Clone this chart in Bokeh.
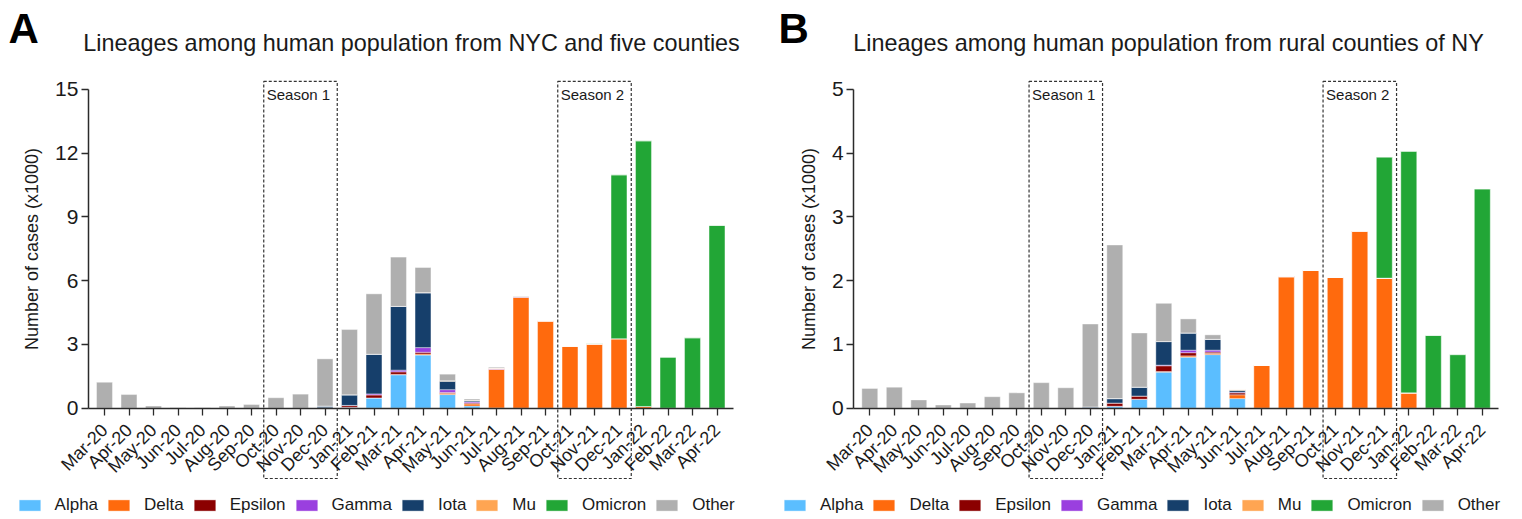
import math
from bokeh.plotting import figure
from bokeh.models import (ColumnDataSource, Range1d, Legend, LegendItem, Label, FixedTicker)
from bokeh.layouts import row
from bokeh.embed import file_html
from bokeh.resources import INLINE
from bokeh.core.properties import value

months = ["Mar-20", "Apr-20", "May-20", "Jun-20", "Jul-20", "Aug-20", "Sep-20",
          "Oct-20", "Nov-20", "Dec-20", "Jan-21", "Feb-21", "Mar-21", "Apr-21",
          "May-21", "Jun-21", "Jul-21", "Aug-21", "Sep-21", "Oct-21", "Nov-21",
          "Dec-21", "Jan-22", "Feb-22", "Mar-22", "Apr-22"]
lineages = ["Alpha", "Delta", "Epsilon", "Gamma", "Iota", "Mu", "Omicron", "Other"]
colors = ["#5BBEFF", "#FF6A0D", "#8B0000", "#9A3FDF", "#163F6B", "#FFA552", "#22A636", "#AFAFAF"]
season1 = ["Oct-20", "Nov-20", "Dec-20"]
season2 = ["Oct-21", "Nov-21", "Dec-21"]

# Panel A: NYC and five counties (cases x1000)
nyc_alpha = [0, 0, 0, 0, 0, 0, 0, 0, 0, 0, 0.04, 0.48, 1.57, 2.50, 0.64, 0.10, 0.01, 0, 0, 0, 0, 0, 0, 0, 0, 0]
nyc_delta = [0, 0, 0, 0, 0, 0, 0, 0, 0, 0, 0, 0, 0.02, 0.05, 0.06, 0.10, 1.82, 5.22, 4.11, 2.92, 3.02, 3.27, 0.08, 0, 0, 0]
nyc_epsilon = [0, 0, 0, 0, 0, 0, 0, 0, 0, 0.02, 0.08, 0.14, 0.12, 0.08, 0.04, 0.04, 0, 0, 0, 0, 0, 0, 0, 0, 0, 0]
nyc_gamma = [0, 0, 0, 0, 0, 0, 0, 0, 0, 0, 0.01, 0.05, 0.08, 0.22, 0.13, 0.05, 0.04, 0.03, 0, 0, 0, 0, 0, 0, 0, 0]
nyc_iota = [0, 0, 0, 0, 0, 0, 0, 0, 0, 0.08, 0.50, 1.87, 3.00, 2.57, 0.40, 0.05, 0, 0, 0, 0, 0, 0, 0, 0, 0, 0]
nyc_mu = [0, 0, 0, 0, 0, 0, 0, 0, 0, 0, 0, 0, 0, 0.02, 0.02, 0.03, 0.02, 0.01, 0, 0, 0, 0, 0, 0, 0, 0]
nyc_omicron = [0, 0, 0, 0, 0, 0, 0, 0, 0, 0, 0, 0, 0, 0, 0, 0, 0, 0, 0, 0, 0.02, 7.71, 12.50, 2.40, 3.31, 8.60]
nyc_other = [1.22, 0.64, 0.10, 0.02, 0.02, 0.10, 0.17, 0.49, 0.66, 2.22, 3.07, 2.84, 2.32, 1.18, 0.31, 0.06, 0.04, 0.02, 0, 0, 0, 0, 0, 0, 0, 0]

# Panel B: rural counties of NY (cases x1000)
rur_alpha = [0, 0, 0, 0, 0, 0, 0, 0, 0, 0, 0.03, 0.14, 0.565, 0.80, 0.84, 0.15, 0, 0, 0, 0, 0, 0, 0, 0, 0, 0]
rur_delta = [0, 0, 0, 0, 0, 0, 0, 0, 0, 0, 0, 0, 0.01, 0.02, 0.02, 0.06, 0.67, 2.06, 2.16, 2.05, 2.78, 2.04, 0.24, 0, 0, 0]
rur_epsilon = [0, 0, 0, 0, 0, 0, 0, 0, 0, 0, 0.05, 0.05, 0.09, 0.05, 0.02, 0.03, 0, 0, 0, 0, 0, 0, 0, 0, 0, 0]
rur_gamma = [0, 0, 0, 0, 0, 0, 0, 0, 0, 0, 0, 0, 0.01, 0.04, 0.03, 0.01, 0, 0.01, 0, 0, 0, 0, 0, 0, 0, 0]
rur_iota = [0, 0, 0, 0, 0, 0, 0, 0, 0, 0.02, 0.07, 0.14, 0.37, 0.27, 0.17, 0.03, 0, 0, 0, 0, 0, 0, 0, 0, 0, 0]
rur_mu = [0, 0, 0, 0, 0, 0, 0, 0, 0, 0, 0, 0, 0, 0, 0, 0.01, 0, 0, 0, 0, 0, 0, 0, 0, 0, 0]
rur_omicron = [0, 0, 0, 0, 0, 0, 0, 0, 0, 0, 0, 0, 0, 0, 0, 0, 0, 0, 0, 0, 0, 1.90, 3.79, 1.14, 0.84, 3.44]
rur_other = [0.31, 0.33, 0.13, 0.05, 0.08, 0.18, 0.24, 0.40, 0.32, 1.30, 2.41, 0.85, 0.60, 0.22, 0.07, 0, 0, 0, 0, 0, 0, 0, 0, 0, 0, 0]

titleA = "Lineages among human population from NYC and five counties"
titleB = "Lineages among human population from rural counties of NY"
yticksA = [0, 3, 6, 9, 12, 15]
yticksB = [0, 1, 2, 3, 4, 5]

FONT = "Liberation Sans"
AXIS = "#2b2b2b"
TEXT = "#1a1a1a"
H = 517          # figure height (px)
PPC = 24.5       # pixels per month slot


def make_panel(letter, title, series, yticks, width, first_px, title_cx, letter_x, legend_x):
    ymax = yticks[-1]
    pos = list(range(len(months)))
    data = {"pos": pos}
    for name, vals in zip(lineages, series):
        data[name] = vals
    src = ColumnDataSource(data)

    p = figure(width=width, height=H,
               x_range=Range1d(-first_px / PPC, (width - first_px) / PPC),
               y_range=Range1d(-ymax * 0.343, ymax * 1.279),
               output_backend="svg", toolbar_location=None, min_border=0)
    p.outline_line_color = None
    p.grid.visible = False
    p.background_fill_color = "white"
    p.border_fill_color = "white"

    rends = p.vbar_stack(lineages, x="pos", width=0.65, color=colors, source=src,
                         line_color="white", line_alpha=0.5, line_width=0.8)

    # season boxes
    for sname, months_in in (("Season 1", season1), ("Season 2", season2)):
        left = months.index(months_in[0]) - 0.5
        right = months.index(months_in[-1]) + 0.5
        top = ymax * 1.025
        bottom = -ymax * 0.2207
        p.quad(left=[left], right=[right], top=[top], bottom=[bottom],
               fill_alpha=0, line_color="#333333", line_dash="3 2", line_width=1.2)
        p.text(x=[left], y=[top], text=[sname], x_offset=3, y_offset=5,
               text_baseline="top", text_align="left",
               text_font=value(FONT), text_font_size=value("15px"), text_color=TEXT)

    axis_x = -0.66
    # x axis
    xa = p.xaxis[0]
    xa.fixed_location = 0
    xa.bounds = (axis_x, len(months) - 0.34)
    xa.ticker = FixedTicker(ticks=pos)
    xa.major_label_overrides = {i: m for i, m in zip(pos, months)}
    xa.major_label_orientation = math.pi / 4
    xa.major_label_text_font = FONT
    xa.major_label_text_font_size = "18px"
    xa.major_label_text_color = TEXT
    xa.minor_tick_line_color = None
    xa.major_tick_out = 7
    xa.major_tick_in = 0
    xa.major_label_standoff = 12
    xa.axis_line_color = AXIS
    xa.axis_line_width = 1.5
    xa.major_tick_line_color = AXIS
    xa.major_tick_line_width = 1.3

    # y axis
    ya = p.yaxis[0]
    ya.fixed_location = axis_x
    ya.bounds = (0, ymax)
    ya.ticker = FixedTicker(ticks=yticks)
    ya.minor_tick_line_color = None
    ya.major_tick_out = 7
    ya.major_tick_in = 0
    ya.major_label_standoff = 3
    ya.major_label_text_font = FONT
    ya.major_label_text_font_size = "21px"
    ya.major_label_text_color = TEXT
    ya.axis_line_color = AXIS
    ya.axis_line_width = 1.5
    ya.major_tick_line_color = AXIS
    ya.major_tick_line_width = 1.3
    ya.axis_label = "Number of cases (x1000)"
    ya.axis_label_text_font = FONT
    ya.axis_label_text_font_size = "18px"
    ya.axis_label_text_font_style = "normal"
    ya.axis_label_text_color = TEXT
    ya.axis_label_standoff = 10

    # title and panel letter (vertically centred on their cap height)
    p.add_layout(Label(x=title_cx, y=H - 42, x_units="screen", y_units="screen", text=title,
                       text_font=FONT, text_font_size="23.4px", text_color=TEXT,
                       text_align="center", text_baseline="middle"))
    p.add_layout(Label(x=letter_x, y=H - 28, x_units="screen", y_units="screen", text=letter,
                       text_font=FONT, text_font_size="42px", text_font_style="bold",
                       text_color="black", text_align="left", text_baseline="middle"))

    legend = Legend(items=[LegendItem(label=l, renderers=[r]) for l, r in zip(lineages, rends)],
                    orientation="horizontal", location=(legend_x, 2), padding=0, margin=0,
                    spacing=7, glyph_width=27, glyph_height=14, label_standoff=12,
                    label_text_font=FONT, label_text_font_size="17px",
                    label_text_color=TEXT,
                    border_line_color=None, background_fill_alpha=0)
    p.add_layout(legend)
    return p


pA = make_panel("A", titleA,
                [nyc_alpha, nyc_delta, nyc_epsilon, nyc_gamma, nyc_iota, nyc_mu, nyc_omicron, nyc_other],
                yticksA, 773, 104, 411, 8, 15.6)
pB = make_panel("B", titleB,
                [rur_alpha, rur_delta, rur_epsilon, rur_gamma, rur_iota, rur_mu, rur_omicron, rur_other],
                yticksB, 747, 96.3, 395, 5, 8)

layout = row(pA, pB)
open("out.html", "w").write(file_html(layout, INLINE))
